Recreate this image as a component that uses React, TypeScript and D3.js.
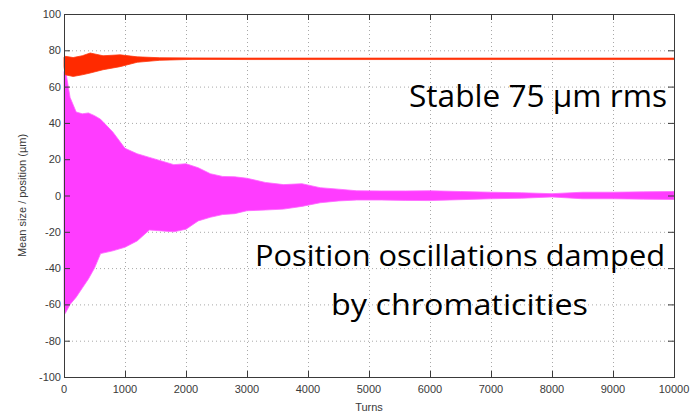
import * as d3 from "d3";

// envelope of the beam position oscillation (µm)
const posTurns = [0, 20, 100, 200, 300, 400, 500, 600, 800, 1000, 1200, 1400, 1600, 1800, 2000, 2200, 2400, 2600, 2800, 3000, 3300, 3600, 3900, 4200, 4500, 4800, 5200, 5600, 6000, 6500, 7000, 7500, 8000, 8500, 9000, 9500, 10000];
const posUpper = [68, 70, 54, 46, 45, 45.5, 44, 42, 35, 26, 23, 21, 19, 17, 17.5, 15.3, 12, 10.5, 10.3, 9.5, 7.2, 6, 6.5, 4.3, 3.5, 2.6, 2.5, 2.5, 2.6, 2.2, 1.8, 1.5, 1, 1.8, 1.8, 2, 2.2];
const posLower = [-60, -65, -60, -56, -51, -46, -40, -32, -30.5, -28.5, -25, -19, -19.5, -20, -18.6, -14, -12, -10.5, -10, -8.4, -8, -7.5, -6, -4, -3, -2.5, -2.5, -2.7, -2.8, -2.3, -1.8, -1.5, -0.8, -1.8, -1.8, -2, -2.2];

// envelope of the rms beam size (µm)
const sizeTurns = [0, 20, 150, 300, 430, 640, 920, 1200, 1570, 2100, 3000, 10000];
const sizeUpper = [76, 76.7, 76, 77, 78.5, 77, 77.5, 76.4, 75.9, 75.8, 75.7, 75.7];
const sizeLower = [71, 66.5, 65.6, 66.5, 67.5, 69.3, 71, 73.4, 74.5, 75, 74.9, 74.9];

const xTicks = [0, 1000, 2000, 3000, 4000, 5000, 6000, 7000, 8000, 9000, 10000];
const yTicks = [-100, -80, -60, -40, -20, 0, 20, 40, 60, 80, 100];

const W = 693;
const H = 413;
const margin = { top: 14, right: 19, bottom: 36, left: 64 };

export default function App() {
  const x = d3.scaleLinear().domain([0, 10000]).range([margin.left, W - margin.right]);
  const y = d3.scaleLinear().domain([-100, 100]).range([H - margin.bottom, margin.top]);

  const posArea = d3
    .area<number>()
    .x((t) => x(t))
    .y0((_, i) => y(posLower[i]))
    .y1((_, i) => y(posUpper[i]))(posTurns);

  const sizeArea = d3
    .area<number>()
    .x((t) => x(t))
    .y0((_, i) => y(sizeLower[i]))
    .y1((_, i) => y(sizeUpper[i]))(sizeTurns);

  const [x0, x1] = x.range();
  const [yb, yt] = y.range();
  const font = "'Liberation Sans', Arial, sans-serif";
  const big = "'Open Sans', 'DejaVu Sans', sans-serif";

  return (
    <svg
      width={W}
      height={H}
      style={{ position: "absolute", left: 0, top: 0, background: "#fff" }}
    >
      {/* grid */}
      <g stroke="#a8a8a8" strokeWidth={1} strokeDasharray="1,3">
        {xTicks.slice(1, -1).map((t) => (
          <line key={"gx" + t} x1={x(t) + 0.5} x2={x(t) + 0.5} y1={yt} y2={yb} />
        ))}
        {yTicks.slice(1, -1).map((t) => (
          <line key={"gy" + t} x1={x0} x2={x1} y1={y(t) + 0.5} y2={y(t) + 0.5} />
        ))}
      </g>

      <path d={posArea ?? ""} fill="#ff3cff" stroke="#ff66ff" strokeWidth={0.8} />
      <path d={sizeArea ?? ""} fill="#ff2a00" stroke="#ff3a10" strokeWidth={0.8} />

      {/* box + ticks */}
      <g stroke="#3a3a3a" strokeWidth={1}>
        <rect x={x0 + 0.5} y={yt + 0.5} width={x1 - x0} height={yb - yt} fill="none" />
        {xTicks.slice(1, -1).map((t) => (
          <g key={"tx" + t}>
            <line x1={x(t) + 0.5} x2={x(t) + 0.5} y1={yb} y2={yb - 6} />
            <line x1={x(t) + 0.5} x2={x(t) + 0.5} y1={yt} y2={yt + 6} />
          </g>
        ))}
        {yTicks.slice(1, -1).map((t) => (
          <g key={"ty" + t}>
            <line x1={x0} x2={x0 + 6} y1={y(t) + 0.5} y2={y(t) + 0.5} />
            <line x1={x1} x2={x1 - 6} y1={y(t) + 0.5} y2={y(t) + 0.5} />
          </g>
        ))}
      </g>

      <g fontFamily={font} fontSize={11} fill="#3a3a3a">
        {xTicks.map((t) => (
          <text key={"lx" + t} x={x(t)} y={yb + 16} textAnchor="middle">
            {t}
          </text>
        ))}
        {yTicks.map((t) => (
          <text key={"ly" + t} x={x0 - 3} y={y(t) + 4} textAnchor="end">
            {t}
          </text>
        ))}
        <text x={x(5000)} y={H - 2} textAnchor="middle">
          Turns
        </text>
        <text
          transform={`translate(26,${(yt + yb) / 2}) rotate(-90)`}
          textAnchor="middle"
        >
          Mean size / position (µm)
        </text>
      </g>

      <g fontFamily={big} fill="#000">
        <text x={409} y={107} fontSize={31} textLength={258} lengthAdjust="spacingAndGlyphs">
          Stable 75 µm rms
        </text>
        <text x={255} y={266} fontSize={29} textLength={410} lengthAdjust="spacingAndGlyphs">
          Position oscillations damped
        </text>
        <text x={331} y={315} fontSize={29} textLength={257} lengthAdjust="spacingAndGlyphs">
          by chromaticities
        </text>
      </g>
    </svg>
  );
}
